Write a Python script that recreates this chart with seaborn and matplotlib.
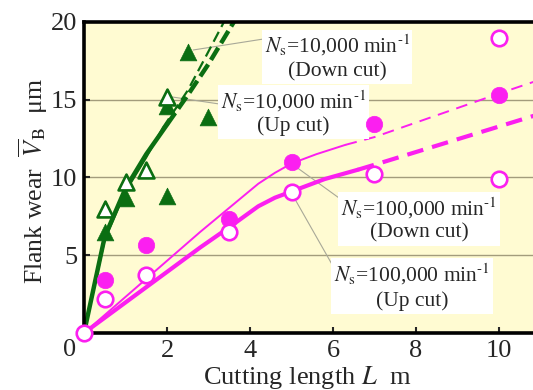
import numpy as np
import seaborn as sns
import matplotlib.pyplot as plt

# measured points (cutting length L in m, flank wear VB in um)
green_down_L = [0.5, 1.0, 2.0, 2.0, 2.5, 3.0]
green_down_vb = [6.5, 8.7, 8.8, 14.6, 18.1, 13.9]
green_up_L = [0.5, 1.0, 1.5, 2.0]
green_up_vb = [8.0, 9.7, 10.5, 15.2]
mag_down_L = [0.5, 1.5, 3.5, 5.0, 7.0, 10.0]
mag_down_vb = [3.4, 5.65, 7.3, 11.0, 13.45, 15.3]
mag_up_L = [0.0, 0.5, 1.5, 3.5, 5.0, 7.0, 10.0, 10.0]
mag_up_vb = [0.0, 2.2, 3.7, 6.5, 9.05, 10.2, 9.9, 19.0]

# trend curves (solid part, dashed part)
g_thick_L = [0, 0.5, 1.0, 1.5, 2.0]
g_thick_vb = [0, 6.2, 9.3, 11.5, 13.4]
g_thick_d_L = [2.0, 2.5, 3.0, 3.7]
g_thick_d_vb = [13.4, 15.3, 17.3, 20.4]
g_thin_L = [0, 0.5, 1.0, 1.5, 1.9]
g_thin_vb = [0, 6.0, 9.1, 11.3, 13.2]
g_thin_d_L = [1.9, 2.5, 2.9, 3.45]
g_thin_d_vb = [13.2, 15.6, 17.6, 20.4]
m_thin_L = [0, 2.8, 4.2, 4.6, 5.0, 5.6, 6.3]
m_thin_vb = [0, 6.5, 9.6, 10.3, 10.9, 11.5, 12.1]
m_thin_d_L = [6.3, 7.0, 10.0, 11.0]
m_thin_d_vb = [12.1, 12.6, 15.4, 16.3]
m_thick_L = [0, 2.8, 3.5, 4.2, 4.6, 5.0, 5.8, 6.6]
m_thick_vb = [0, 5.5, 6.8, 8.15, 8.7, 9.1, 9.9, 10.5]
m_thick_d_L = [6.6, 7.1, 11.0]
m_thick_d_vb = [10.5, 10.9, 14.1]

GREEN = "#0b6e12"
MAG = "#fb1ff0"
GRIDC = "#a39c7c"
LEADC = "#a8a898"
SERIF = ["Liberation Serif", "DejaVu Serif"]

sns.set_style("ticks")
plt.rcParams["font.family"] = SERIF
plt.rcParams["mathtext.fontset"] = "stix"

fig = plt.figure(figsize=(5.33, 3.9), dpi=100)
ax = fig.add_axes([84 / 533, 57 / 390, 456.5 / 533, 311 / 390])
ax.set_facecolor("#fffbd2")
ax.set_xlim(0, 11)
ax.set_ylim(0, 20)

for yv in [5, 10, 15]:
    ax.axhline(yv, color=GRIDC, lw=1.0, zorder=0.5)

def line(xs, ys, color, lw, **kw):
    sns.lineplot(x=xs, y=ys, color=color, lw=lw, sort=False, estimator=None,
                 ax=ax, zorder=2, **kw)

line(g_thin_L, g_thin_vb, GREEN, 1.6)
line(g_thin_d_L, g_thin_d_vb, GREEN, 1.6, dashes=(5, 2.5))
line(g_thick_L, g_thick_vb, GREEN, 3.2)
line(g_thick_d_L, g_thick_d_vb, GREEN, 3.2, dashes=(3.2, 1.2))
line(m_thin_L, m_thin_vb, MAG, 1.4)
line(m_thin_d_L, m_thin_d_vb, MAG, 1.4, dashes=(6, 4))
line(m_thick_L, m_thick_vb, MAG, 3.0)
line(m_thick_d_L, m_thick_d_vb, MAG, 3.0, dashes=(4, 2.2))

# leader lines from the labels to the marks
leaders = [((2.63, 18.2), (4.31, 18.9)), ((2.07, 15.2), (3.33, 14.7)),
           ((5.1, 10.7), (6.24, 8.5)), ((5.0, 9.0), (6.0, 4.3))]
for (x0, y0), (x1, y1) in leaders:
    ax.plot([x0, x1], [y0, y1], color=LEADC, lw=0.8, zorder=1.5)

sns.scatterplot(x=green_down_L, y=green_down_vb, marker="^", s=145, color=GREEN,
                edgecolor=GREEN, linewidth=0.5, ax=ax, zorder=4)
sns.scatterplot(x=green_up_L, y=green_up_vb, marker="^", s=130, color="white",
                edgecolor=GREEN, linewidth=1.9, ax=ax, zorder=4)
sns.scatterplot(x=mag_down_L, y=mag_down_vb, marker="o", s=140, color=MAG,
                edgecolor=MAG, linewidth=0.5, ax=ax, zorder=4)
sns.scatterplot(x=mag_up_L, y=mag_up_vb, marker="o", s=125, color="white",
                edgecolor=MAG, linewidth=1.9, ax=ax, zorder=5, clip_on=False)

box = dict(facecolor="white", edgecolor="none", pad=2)
tfs = 15.5
ns10 = "$N_\\mathrm{s}$=10,000 min$^{\\text{-1}}$"
ns100 = "$N_\\mathrm{s}$=100,000 min$^{\\text{-1}}$"
ax.text(6.1, 17.75, ns10 + "\n(Down cut)", ha="center",
        va="center", fontsize=tfs, linespacing=1.25, bbox=box, zorder=3)
ax.text(5.04, 14.2, ns10 + "\n(Up cut)", ha="center",
        va="center", fontsize=tfs, linespacing=1.15, bbox=box, zorder=3)
ax.text(8.07, 7.33, ns100 + "\n(Down cut)", ha="center",
        va="center", fontsize=tfs, linespacing=1.2, bbox=box, zorder=3)
ax.text(7.9, 3.0, ns100 + "\n(Up cut)", ha="center",
        va="center", fontsize=tfs, linespacing=1.3, bbox=box, zorder=3)

ax.set_xticks([2, 4, 6, 8, 10])
ax.set_yticks([5, 10, 15, 20])
ax.set_xticklabels(["2", "4", "6", "8", "10"], family=SERIF)
ax.set_yticklabels(["5", "10", "15", "20"], family=SERIF)
ax.tick_params(direction="in", length=4, width=1.5, labelsize=19, pad=5)
for s in ax.spines.values():
    s.set_linewidth(2.6)
    s.set_color("black")
ax.annotate("0", xy=(0, 0), xycoords="axes fraction", xytext=(-14, -17),
            textcoords="offset pixels", ha="center", va="center", fontsize=19,
            family=SERIF)

ax.set_xlabel("Cutting length $L$  m", fontsize=19)
ax.xaxis.set_label_coords(0.4885, -0.1415)
ax.xaxis.label.set_va("center")
ax.set_ylabel("Flank wear  $\\overline{V}_\\mathrm{B}$  μm", fontsize=18.5)
ax.yaxis.set_label_coords(-0.112, 0.487)
ax.yaxis.label.set_va("center")

fig.savefig("out.png", dpi=100)
